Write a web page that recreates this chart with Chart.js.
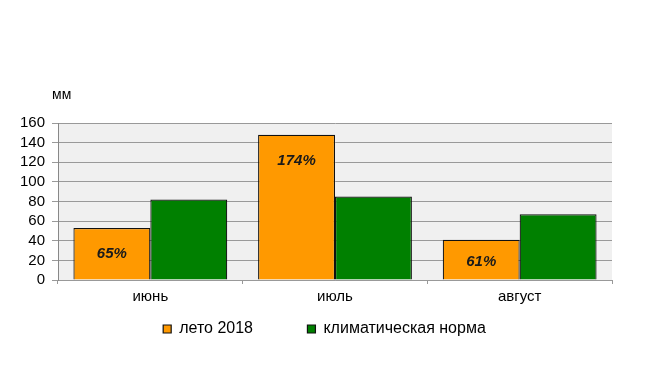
<!DOCTYPE html>
<html lang="ru">
<head>
<meta charset="UTF-8">
<title>Осадки лето 2018</title>
<script src="https://cdn.jsdelivr.net/npm/chart.js"></script>
<style>
  html, body { margin: 0; padding: 0; background: #fff; }
  #wrap { width: 649px; height: 365px; }
</style>
</head>
<body>
<div id="wrap"><canvas id="grafico"></canvas></div>
<script>
// данные
const meses = ['июнь', 'июль', 'август'];
const leto2018 = [53, 148, 41];
const norma = [82, 85, 67];
const percentuais = ['65%', '174%', '61%'];
const ticksY = [0, 20, 40, 60, 80, 100, 120, 140, 160];

const cinza = '#999999';
const fonte = '"Liberation Sans", Arial, sans-serif';

// fundo cinza claro da área do gráfico + "мм"
const fundoPlugin = {
  id: 'fundo',
  afterLayout(chart) {
    // legenda centralizada na largura toda do canvas
    const l = chart.legend;
    if (l) { l.left = 0; l.right = chart.width; l.width = chart.width; }
  },
  beforeDraw(chart) {
    const a = chart.chartArea, ctx = chart.ctx;
    ctx.save();
    ctx.fillStyle = '#f0f0f0';
    ctx.fillRect(a.left, a.top, a.right - a.left, a.bottom - a.top);
    ctx.restore();
  },
  afterDraw(chart) {
    const a = chart.chartArea, ctx = chart.ctx;
    ctx.save();
    ctx.fillStyle = '#000';
    ctx.font = '14px ' + fonte;
    ctx.textAlign = 'left';
    ctx.textBaseline = 'middle';
    ctx.fillText('мм', a.left - 6, a.top - 28);
    ctx.restore();
  }
};

// rótulos de % dentro das barras laranja
const rotulosPlugin = {
  id: 'rotulos',
  afterDatasetsDraw(chart) {
    const ctx = chart.ctx;
    const meta = chart.getDatasetMeta(0);
    ctx.save();
    ctx.fillStyle = '#1a1a1a';
    ctx.font = 'italic bold 15px ' + fonte;
    ctx.textAlign = 'center';
    ctx.textBaseline = 'middle';
    meta.data.forEach(function (bar, i) {
      const h = bar.base - bar.y;
      ctx.fillText(percentuais[i], bar.x, bar.y + Math.min(26, h * 0.55));
    });
    ctx.restore();
  }
};

const padraoLabels = Chart.defaults.plugins.legend.labels.generateLabels;

new Chart(document.getElementById('grafico'), {
  type: 'bar',
  data: {
    labels: meses,
    datasets: [{
      label: 'лето 2018',
      data: leto2018,
      backgroundColor: '#ff9900',
      borderColor: '#111',
      borderWidth: 1.2,
      barPercentage: 1,
      categoryPercentage: 0.833
    }, {
      label: 'климатическая норма',
      data: norma,
      backgroundColor: '#008000',
      borderColor: '#111',
      borderWidth: 1.2,
      barPercentage: 1,
      categoryPercentage: 0.833
    }]
  },
  options: {
    responsive: true,
    maintainAspectRatio: false,
    animation: false,
    layout: { padding: { top: 123, right: 37, left: 0, bottom: 18 } },
    plugins: {
      tooltip: { enabled: false },
      legend: {
        position: 'bottom',
        labels: {
          boxWidth: 8,
          boxHeight: 8,
          padding: 10,
          color: '#000',
          font: { family: fonte, size: 16 },
          generateLabels(chart) {
            const itens = padraoLabels(chart);
            itens[0].text = itens[0].text + '          ';
            return itens;
          }
        }
      }
    },
    scales: {
      x: {
        grid: {
          offset: true,
          drawOnChartArea: true,
          color: c => c.index === meses.length ? cinza : 'rgba(0,0,0,0)',
          tickColor: cinza,
          tickLength: 4
        },
        border: { color: cinza },
        ticks: {
          color: '#000',
          padding: 4,
          font: { family: fonte, size: 15 }
        },
        afterFit(scale) { scale.height = 31; }
      },
      y: {
        min: 0,
        max: 160,
        afterBuildTicks(scale) { scale.ticks = ticksY.map(v => ({ value: v })); },
        grid: { color: cinza, tickColor: cinza, tickLength: 6 },
        border: { color: '#888' },
        ticks: {
          autoSkip: false,
          color: '#000',
          padding: 7,
          font: { family: fonte, size: 15 }
        },
        afterFit(scale) { scale.width = 58; }
      }
    }
  },
  plugins: [fundoPlugin, rotulosPlugin]
});
</script>
</body>
</html>
